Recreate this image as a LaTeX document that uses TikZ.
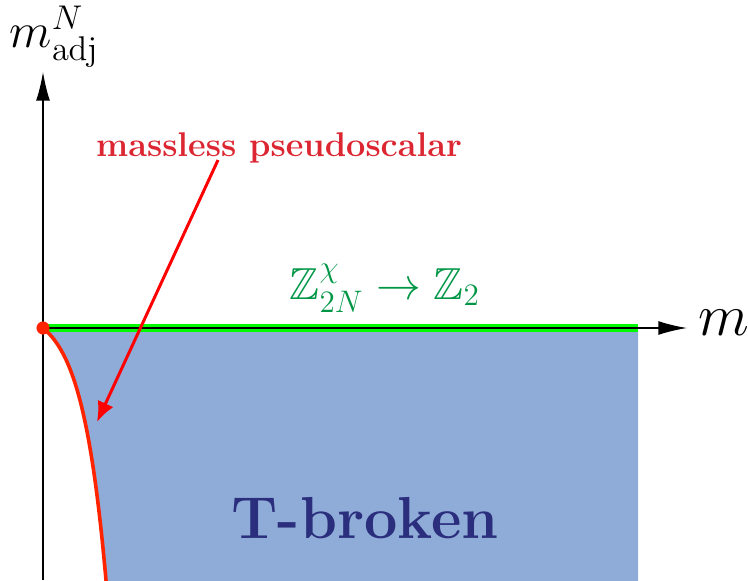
\documentclass[tikz,border=0pt]{standalone}
\usepackage{amssymb}
\usetikzlibrary{arrows.meta}
\definecolor{regblue}{RGB}{143,171,216}
\definecolor{txtblue}{RGB}{42,46,124}
\definecolor{lblred}{RGB}{220,38,50}
\definecolor{curvered}{RGB}{255,35,0}
\definecolor{lblgreen}{RGB}{0,150,70}
\definecolor{linegreen}{RGB}{0,250,0}
\tikzset{
  axis/.style={line width=0.57pt,-{Latex[length=12pt,width=5.8pt]}},
  lbl/.style={inner sep=0pt,anchor=base},
}
\begin{document}
\begin{tikzpicture}[x=0.42pt,y=-0.42pt]
\useasboundingbox (0,0) rectangle (748,580);
% region
\fill[regblue] (43,328) -- plot[domain=0:254,samples=90] ({43+24*ln(1+\x/19.7)},{328+\x}) -- (638,582) -- (638,328) -- cycle;
% green line
\draw[linegreen,line width=3.4pt] (43,328) -- (638,328);
% axes
\coordinate (O) at (43,328);
\coordinate (ybot) at (43,580);
\coordinate (ytop) at (43,72);
\coordinate (xend) at (687,328);
\draw[axis] (ybot) -- (ytop);
\draw[axis] (O) -- (xend);
% curve
\draw[curvered,line width=1.5pt] plot[domain=0:256,samples=90] ({43+24*ln(1+\x/19.7)},{328+\x});
\fill[curvered] (O) circle[radius=2.75pt];
% labels
\node[lbl,anchor=base west] (ylab) at (9,47) {\huge $m_{\mathrm{adj}}^N$};
\node[lbl,anchor=base west] (xlab) at (698,335) {\Huge $m$};
\node[lbl,text=lblred] (ml) at (279,156) {\Large\bfseries massless pseudoscalar};
\node[lbl,text=lblgreen] (zl) at (385,299) {\scalebox{1.09}{\LARGE $\mathbb{Z}_{2N}^{\chi}\to\mathbb{Z}_2$}};
\node[lbl,text=txtblue] (tb) at (365,538) {\Huge\bfseries T-broken};
% arrow
\coordinate (tip) at (97,422);
\draw[red,line width=1.25pt,-{Latex[length=8.5pt,width=7.2pt]}] (218,160) -- (tip);
\end{tikzpicture}
\end{document}
